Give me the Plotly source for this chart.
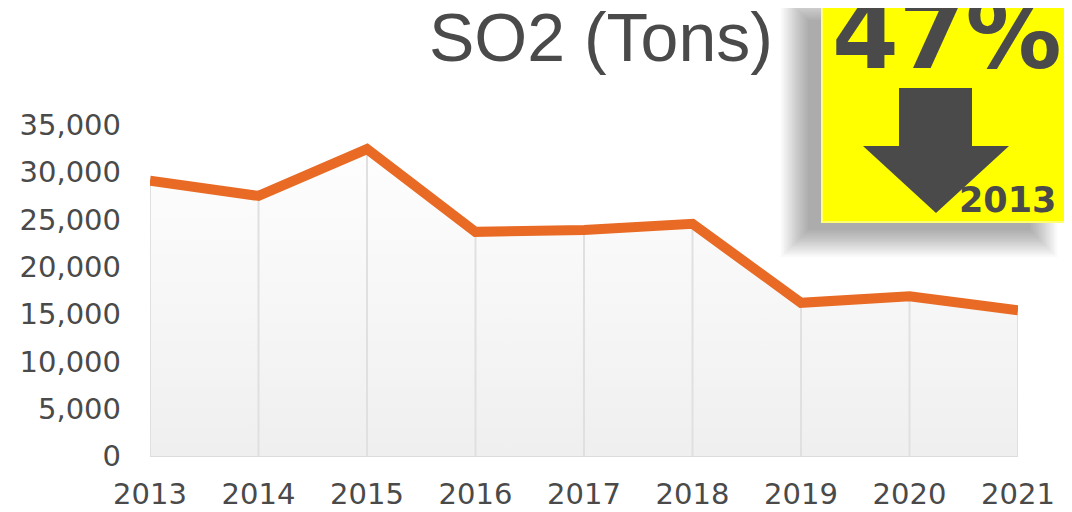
import plotly.graph_objects as go

years = [2013, 2014, 2015, 2016, 2017, 2018, 2019, 2020, 2021]
so2_tons = [29100, 27500, 32450, 23700, 23900, 24550, 16200, 16900, 15400]
y_ticks = [0, 5000, 10000, 15000, 20000, 25000, 30000, 35000]
title_text = "SO2 (Tons)"
badge_pct = "47%"
badge_year = "2013"

OFF = 8  # page body margin
W, H = 1072 - OFF, 512 - OFF
def px(x):
    return (x - OFF) / W
def py(y):
    return 1 - (y - OFF) / H

GREY_TXT = "#4a4a4a"
ORANGE = "#E86A24"

fig = go.Figure()

# gradient fill under the line
fig.add_trace(go.Scatter(
    x=years, y=so2_tons, mode="lines", line=dict(width=0, color="rgba(0,0,0,0)"),
    fill="tozeroy",
    fillgradient=dict(type="vertical", colorscale=[[0, "#efefef"], [1, "#ffffff"]],
                      start=0, stop=35000),
    hoverinfo="skip", showlegend=False))

# drop lines
dx, dy = [], []
for xv, yv in zip(years, so2_tons):
    dx += [xv, xv, None]
    dy += [0, yv, None]
fig.add_trace(go.Scatter(x=dx, y=dy, mode="lines",
                         line=dict(color="#e0e0e0", width=2),
                         hoverinfo="skip", showlegend=False))

# main line
fig.add_trace(go.Scatter(x=years, y=so2_tons, mode="lines",
                         line=dict(color=ORANGE, width=10),
                         showlegend=False))

shapes = []
# soft shadow of the badge (stacked translucent rectangles)
N = 18
for i in range(N):
    e = 1.6 * i
    shapes.append(dict(type="rect", xref="paper", yref="paper",
                       x0=px(808 - e), x1=px(1030 + e),
                       y0=py(230 + e), y1=py(20 - e),
                       fillcolor="rgba(0,0,0,0.02)", line=dict(width=0),
                       layer="above"))
# yellow badge
shapes.append(dict(type="rect", xref="paper", yref="paper",
                   x0=px(822), x1=px(1066), y0=py(222), y1=py(-5),
                   fillcolor="#FFFF00", line=dict(color="#ffff70", width=2),
                   layer="above"))
# down arrow
pts = [(899, 88), (972, 88), (972, 146), (1009, 146), (936, 213), (863, 146), (899, 146)]
path = "M " + " L ".join(f"{px(a):.5f},{py(b):.5f}" for a, b in pts) + " Z"
shapes.append(dict(type="path", xref="paper", yref="paper", path=path,
                   fillcolor=GREY_TXT, line=dict(width=0), layer="above"))

annotations = [
    dict(text=title_text, x=px(601), y=py(37), xref="paper", yref="paper",
         xanchor="center", yanchor="middle", showarrow=False,
         font=dict(family="Liberation Sans, Arial", size=68, color=GREY_TXT)),
    dict(text=f"<b>{badge_pct}</b>", x=px(947), y=py(35), xref="paper", yref="paper",
         xanchor="center", yanchor="middle", showarrow=False,
         font=dict(family="DejaVu Sans", size=96, color=GREY_TXT)),
    dict(text=f"<b>{badge_year}</b>", x=px(1058), y=py(200), xref="paper", yref="paper",
         xanchor="right", yanchor="middle", showarrow=False,
         font=dict(family="DejaVu Sans", size=35, color=GREY_TXT)),
]

fig.update_layout(
    width=W, height=H,
    margin=dict(l=0, r=0, t=0, b=0, autoexpand=False),
    paper_bgcolor="white", plot_bgcolor="white",
    shapes=shapes, annotations=annotations,
    xaxis=dict(domain=[px(150), px(1018)], range=[2013, 2021], automargin=False,
               tickmode="array", tickvals=years, ticktext=[str(y) for y in years],
               showgrid=False, zeroline=False, showline=False,
               ticks="", ticklabelstandoff=18,
               tickfont=dict(family="DejaVu Sans", size=29, color=GREY_TXT)),
    yaxis=dict(domain=[py(456), py(125)], range=[0, 35000], automargin=False,
               tickmode="array", tickvals=y_ticks,
               ticktext=[f"{v:,}" for v in y_ticks],
               showgrid=False, zeroline=True, zerolinecolor="#dcdcdc", zerolinewidth=2,
               showline=False, ticks="", ticklabelstandoff=28,
               tickfont=dict(family="DejaVu Sans", size=29, color=GREY_TXT)),
)

fig.write_html("out.html")
